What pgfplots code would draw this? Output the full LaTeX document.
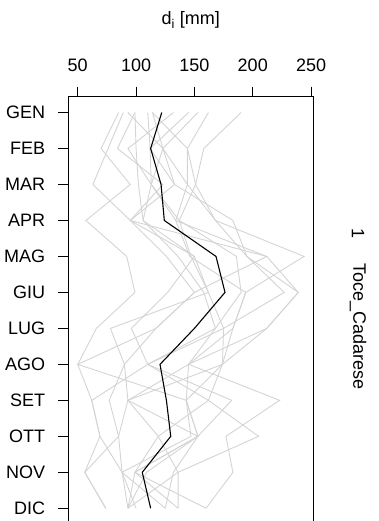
\documentclass[border=0pt]{standalone}
\usepackage{pgfplots}
\pgfplotsset{compat=1.18}
\usepackage{fontspec}
\setmainfont{Liberation Sans}
\definecolor{lgray}{gray}{0.83}
\begin{document}
\fontsize{18}{21.6}\selectfont
\begin{tikzpicture}
\path[use as bounding box] (0,0) rectangle (379pt,521pt);
\begin{axis}[
  name=ax,
  at={(68.3pt,424.3pt)}, anchor=north west,
  width=245pt, height=427.4pt, scale only axis,
  xmin=41.9, xmax=251.9,
  ymin=0.56, ymax=12.44, y dir=reverse,
  xtick={50,100,150,200,250},
  ytick={1,...,12},
  yticklabels={GEN,FEB,MAR,APR,MAG,GIU,LUG,AGO,SET,OTT,NOV,DIC},
  xtick pos=upper, xticklabel pos=upper, ytick pos=left,
  tick align=outside, major tick length=10pt,
  tick style={line width=0.9pt, black},
  axis line style={line width=0.9pt},
  /pgf/number format/assume math mode=true,
  ticklabel style={font=\fontsize{18}{21.6}\selectfont},
  xticklabel style={anchor=base, yshift=15pt},
  yticklabel style={xshift=-7pt},
  xlabel={d\textsubscript{i} [mm]},
  xlabel style={at={(axis description cs:0.5,1)}, anchor=base, yshift=71.7pt, font=\fontsize{18}{21.6}\selectfont},
  clip=true,
]
\pgfplotsset{every axis plot/.append style={line width=0.9pt}}
\addplot[lgray] coordinates {(190,1)(158,2)(151,3)(168,4)(244,5)(194,6)(183,7)(145,8)(223,9)(177,10)(183,11)(160,12)};
\addplot[lgray] coordinates {(85,1)(70,2)(95,3)(57,4)(92,5)(99,6)(66,7)(50,8)(62,9)(69,10)(56,11)(74,12)};
\addplot[lgray] coordinates {(162,1)(144,2)(144,3)(134,4)(212,5)(239,6)(212,7)(174,8)(162,9)(205,10)(136,11)(136,12)};
\addplot[lgray] coordinates {(89,1)(76,2)(63,3)(95,4)(126,5)(150,6)(117,7)(90,8)(77,9)(85,10)(88,11)(93,12)};
\addplot[lgray] coordinates {(153,1)(123,2)(133,3)(183,4)(195,5)(227,6)(175,7)(110,8)(182,9)(153,10)(132,11)(125,12)};
\addplot[lgray] coordinates {(99,1)(100,2)(102,3)(106,4)(150,5)(162,6)(78,7)(90,8)(93,9)(119,10)(99,11)(93,12)};
\addplot[lgray] coordinates {(132,1)(93,2)(113,3)(137,4)(186,5)(190,6)(168,7)(145,8)(143,9)(147,10)(88,11)(125,12)};
\addplot[lgray] coordinates {(110,1)(112,2)(113,3)(106,4)(136,5)(158,6)(168,7)(110,8)(162,9)(119,10)(136,11)(93,12)};
\addplot[lgray] coordinates {(93,1)(123,2)(113,3)(134,4)(146,5)(194,6)(183,7)(174,8)(93,9)(85,10)(56,11)(74,12)};
\addplot[lgray] coordinates {(145,1)(112,2)(133,3)(95,4)(212,5)(150,6)(117,7)(50,8)(143,9)(153,10)(99,11)(136,12)};
\addplot[lgray] coordinates {(114,1)(123,2)(144,3)(168,4)(195,5)(239,6)(212,7)(145,8)(93,9)(153,10)(99,11)(160,12)};
\addplot[lgray] coordinates {(114,1)(144,2)(151,3)(137,4)(147,5)(162,6)(175,7)(174,8)(143,9)(153,10)(109,11)(93,12)};
\addplot[lgray] coordinates {(99,1)(84,2)(123,3)(95,4)(150,5)(127,6)(96,7)(110,8)(62,9)(69,10)(88,11)(100,12)};
\addplot[black, line width=1.1pt] coordinates {(122,1)(112.5,2)(121.4,3)(124.2,4)(168.5,5)(176.2,6)(150,7)(120.5,8)(126,9)(129.7,10)(105.3,11)(112.5,12)};
\end{axis}
\node[rotate=-90, inner sep=0pt] at (358pt,287.7pt) {\fontsize{18}{21.6}\selectfont 1};
\node[rotate=-90, inner sep=0pt] at (358pt,194.3pt) {\fontsize{18}{21.6}\selectfont Toce\_Cadarese};
\end{tikzpicture}
\end{document}
